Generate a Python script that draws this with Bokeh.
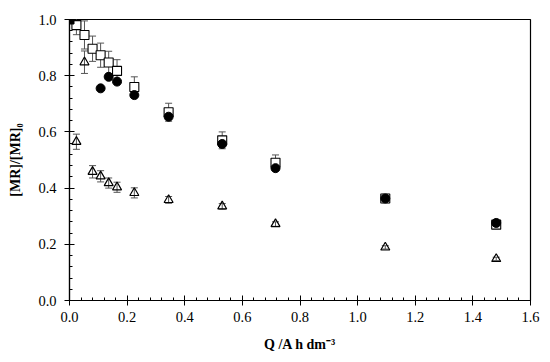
from bokeh.plotting import figure
from bokeh.models import Range1d, SingleIntervalTicker, ColumnDataSource, Whisker, TeeHead, PrintfTickFormatter
from bokeh.embed import file_html
from bokeh.resources import INLINE

# Series 1: open squares (with error bars)
q_sq = [0.024, 0.052, 0.080, 0.108, 0.136, 0.165, 0.225, 0.344, 0.530, 0.715, 1.096, 1.481]
v_sq = [0.980, 0.945, 0.896, 0.873, 0.847, 0.817, 0.760, 0.670, 0.570, 0.490, 0.363, 0.270]
e_sq = [0.034, 0.050, 0.045, 0.043, 0.040, 0.040, 0.036, 0.032, 0.030, 0.028, 0.015, 0.010]

# Series 2: filled circles
q_ci = [0.108, 0.136, 0.165, 0.225, 0.344, 0.530, 0.715, 1.096, 1.481]
v_ci = [0.755, 0.796, 0.779, 0.731, 0.654, 0.557, 0.471, 0.363, 0.276]

# Series 3: open triangles (with error bars)
q_tr = [0.024, 0.052, 0.080, 0.108, 0.136, 0.165, 0.225, 0.344, 0.530, 0.715, 1.096, 1.481]
v_tr = [0.565, 0.848, 0.458, 0.442, 0.418, 0.403, 0.383, 0.358, 0.335, 0.272, 0.189, 0.148]
e_tr = [0.027, 0.040, 0.022, 0.020, 0.018, 0.018, 0.018, 0.012, 0.010, 0.008, 0.006, 0.006]

# Common starting point
q0 = [0.0]
v0 = [1.0]

FONT = "Liberation Serif"

p = figure(width=550, height=362, output_backend="svg", toolbar_location=None,
           x_range=Range1d(0, 1.6), y_range=Range1d(0, 1.0),
           min_border_left=69, min_border_right=20, min_border_top=19, min_border_bottom=62)
p.xgrid.visible = False
p.ygrid.visible = False
p.outline_line_color = "black"
p.outline_line_width = 1.2
p.background_fill_color = "white"
p.border_fill_color = "white"

p.xaxis.ticker = SingleIntervalTicker(interval=0.2, num_minor_ticks=5)
p.yaxis.ticker = SingleIntervalTicker(interval=0.2, num_minor_ticks=5)
for ax in (p.xaxis[0], p.yaxis[0]):
    ax.axis_line_color = "black"
    ax.axis_line_width = 1.2
    ax.major_tick_in = 5
    ax.major_tick_out = 5
    ax.minor_tick_in = 3
    ax.minor_tick_out = 0
    ax.major_tick_line_color = "black"
    ax.minor_tick_line_color = "black"
    ax.major_label_text_font = FONT
    ax.major_label_text_font_size = "14.5px"
    ax.major_label_text_color = "black"
    ax.axis_label_text_font = FONT
    ax.axis_label_text_font_size = "14px"
    ax.axis_label_text_font_style = "bold"
    ax.axis_label_text_color = "black"
p.xaxis.formatter = PrintfTickFormatter(format="%.1f")
p.yaxis.formatter = PrintfTickFormatter(format="%.1f")
p.xaxis[0].major_label_standoff = 6
p.yaxis[0].major_label_standoff = 8
p.xaxis.axis_label = "Q /A h dm\u207b\u00b3"
p.yaxis.axis_label = "[MR]/[MR]\u2080"
p.xaxis[0].axis_label_standoff = 12
p.yaxis[0].axis_label_standoff = 12

err_color = "#555555"
src_sq = ColumnDataSource(dict(x=q_sq, y=v_sq, lo=[a - b for a, b in zip(v_sq, e_sq)], hi=[a + b for a, b in zip(v_sq, e_sq)]))
src_tr = ColumnDataSource(dict(x=q_tr, y=v_tr, lo=[a - b for a, b in zip(v_tr, e_tr)], hi=[a + b for a, b in zip(v_tr, e_tr)]))
for src in (src_tr, src_sq):
    w = Whisker(base="x", upper="hi", lower="lo", source=src, level="underlay",
                line_color=err_color, line_width=1,
                upper_head=TeeHead(size=7, line_color=err_color, line_width=1),
                lower_head=TeeHead(size=7, line_color=err_color, line_width=1))
    p.add_layout(w)

p.scatter(q_tr, v_tr, marker="triangle", size=9, fill_color=None, line_color="black", line_width=1.2)
p.scatter(q_sq, v_sq, marker="square", size=9, fill_color="white", line_color="black", line_width=1.1)
p.scatter(q_ci, v_ci, marker="circle", size=9, fill_color="black", line_color="black")
p.scatter(q0, v0, marker="square", size=9, fill_color="black", line_color="black")

open("out.html", "w").write(file_html(p, INLINE))
